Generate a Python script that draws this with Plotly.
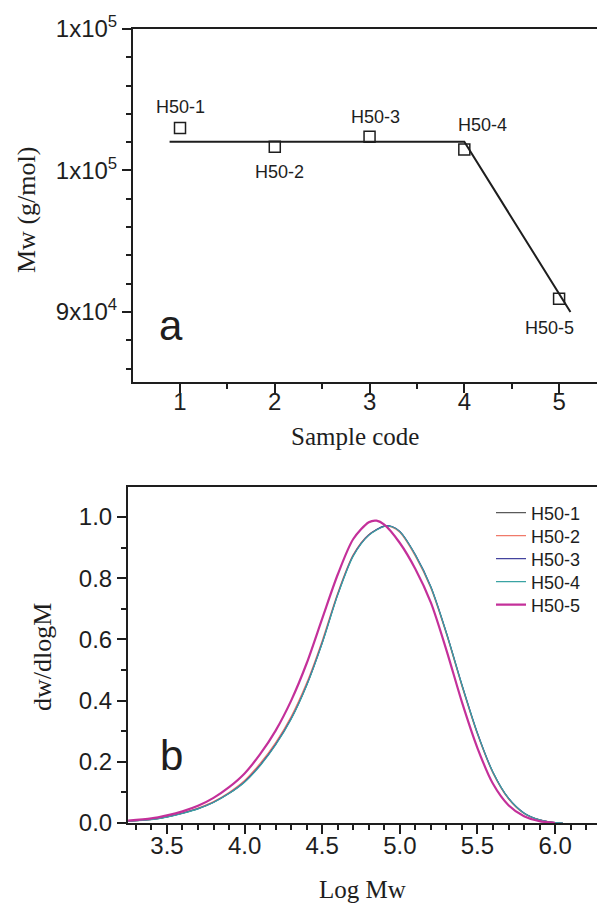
import plotly.graph_objects as go

# ---------------- Panel a data ----------------
sample_code = [1, 2, 3, 4, 5]
mw_values = [103010, 101670, 102380, 101480, 90940]
sample_names = ["H50-1", "H50-2", "H50-3", "H50-4", "H50-5"]
fit_x = [0.89, 4.0, 5.12]
fit_y = [102030, 102030, 90000]
a_yticks = [90000, 100000, 110000]
a_yticktext = ["9x10<sup>4</sup>", "1x10<sup>5</sup>", "1x10<sup>5</sup>"]

# ---------------- Panel b data ----------------
logm_5 = [3.25, 3.4, 3.5, 3.6, 3.7, 3.8, 3.9, 4.0, 4.1, 4.2, 4.3, 4.4, 4.5, 4.6, 4.7,
          4.8, 4.85, 4.9, 5.0, 5.1, 5.2, 5.3, 5.4, 5.5, 5.6, 5.7, 5.8, 5.9, 6.0]
dw_5 = [0.008, 0.015, 0.025, 0.038, 0.056, 0.082, 0.117, 0.162, 0.225, 0.302, 0.400,
        0.522, 0.668, 0.812, 0.928, 0.983, 0.988, 0.975, 0.915, 0.830, 0.720, 0.565,
        0.395, 0.245, 0.128, 0.058, 0.022, 0.006, 0.0]

logm = [3.25, 3.4, 3.5, 3.6, 3.7, 3.8, 3.9, 4.0, 4.1, 4.2, 4.3, 4.4, 4.5, 4.6, 4.7,
        4.8, 4.9, 4.95, 5.0, 5.1, 5.2, 5.3, 5.4, 5.5, 5.6, 5.7, 5.8, 5.9, 6.0, 6.05]
dw_1 = [0.006, 0.012, 0.020, 0.032, 0.047, 0.068, 0.097, 0.135, 0.190, 0.258, 0.342,
        0.452, 0.590, 0.748, 0.875, 0.942, 0.970, 0.968, 0.952, 0.875, 0.770, 0.620,
        0.450, 0.292, 0.165, 0.080, 0.032, 0.010, 0.001, 0.0]
dw_2 = [0.006, 0.012, 0.021, 0.033, 0.049, 0.070, 0.100, 0.139, 0.195, 0.263, 0.348,
        0.458, 0.596, 0.752, 0.877, 0.942, 0.969, 0.967, 0.950, 0.872, 0.767, 0.617,
        0.447, 0.290, 0.163, 0.079, 0.031, 0.010, 0.001, 0.0]
dw_3 = [0.006, 0.012, 0.020, 0.032, 0.047, 0.068, 0.097, 0.135, 0.189, 0.257, 0.341,
        0.451, 0.589, 0.747, 0.874, 0.941, 0.971, 0.969, 0.953, 0.877, 0.772, 0.622,
        0.452, 0.294, 0.166, 0.081, 0.033, 0.010, 0.001, 0.0]
dw_4 = [0.006, 0.011, 0.019, 0.031, 0.046, 0.067, 0.096, 0.133, 0.187, 0.255, 0.339,
        0.449, 0.587, 0.745, 0.872, 0.940, 0.969, 0.968, 0.952, 0.876, 0.771, 0.621,
        0.451, 0.293, 0.166, 0.081, 0.032, 0.010, 0.001, 0.0]

series_names = ["H50-1", "H50-2", "H50-3", "H50-4", "H50-5"]
series_colors = ["#5a5a5a", "#f07a6a", "#44449e", "#3aa3a3", "#c4309a"]

INK = "#1e1e1e"
SANS = "Liberation Sans, Arial, sans-serif"
SERIF = "Liberation Serif, Times New Roman, serif"
W, H = 597, 904


def px2x(px):
    return px / W


def px2y(py):
    return 1 - py / H


fig = go.Figure()

# Panel a
fig.add_trace(go.Scatter(x=fit_x, y=fit_y, mode="lines", line=dict(color=INK, width=2),
                         xaxis="x", yaxis="y", showlegend=False, hoverinfo="skip"))
fig.add_trace(go.Scatter(x=sample_code, y=mw_values, mode="markers",
                         marker=dict(symbol="square-open", size=11, color=INK,
                                     line=dict(width=1.5, color=INK)),
                         xaxis="x", yaxis="y", showlegend=False))

# Panel b
legend_ids = ["legend", "legend2", "legend3", "legend4", "legend5"]
data_b = [(logm, dw_1), (logm, dw_2), (logm, dw_3), (logm, dw_4), (logm_5, dw_5)]
widths = [1.2, 1.2, 1.2, 1.2, 2.2]
for (xs, ys), name, col, wd, lg in zip(data_b, series_names, series_colors, widths, legend_ids):
    fig.add_trace(go.Scatter(x=xs, y=ys, mode="lines", name=name, legend=lg,
                             line=dict(color=col, width=wd, shape="spline", smoothing=0.8),
                             xaxis="x2", yaxis="y2"))

axis_common = dict(showline=True, linecolor=INK, linewidth=2, showgrid=False, zeroline=False,
                   ticks="outside", ticklen=9, tickwidth=2, tickcolor=INK,
                   tickfont=dict(family=SANS, size=24, color=INK))
minor_common = dict(ticks="outside", ticklen=5, tickwidth=2, tickcolor=INK)

layout_legends = {}
legend_rows = [513, 536, 559, 582, 605]
for lg, row in zip(legend_ids, legend_rows):
    layout_legends[lg] = dict(x=px2x(491), y=px2y(row), xanchor="left", yanchor="middle",
                              bgcolor="rgba(0,0,0,0)", borderwidth=0,
                              font=dict(family=SANS, size=18, color=INK))

fig.update_layout(
    width=W, height=H,
    margin=dict(l=0, r=0, t=0, b=0, autoexpand=False),
    paper_bgcolor="white", plot_bgcolor="white",
    xaxis=dict(domain=[px2x(133), 1.0], range=[0.504, 5.40], anchor="y",
               tickmode="linear", tick0=1, dtick=1, mirror=True, ticklabelstandoff=-12,
               minor=dict(dtick=0.5, tick0=0.5, **minor_common),
               **axis_common),
    yaxis=dict(domain=[px2y(382), px2y(29)], range=[85050, 110000], anchor="x",
               tickmode="array", tickvals=a_yticks, ticktext=a_yticktext,
               minor=dict(dtick=2000, tick0=0, **minor_common),
               **axis_common),
    xaxis2=dict(domain=[px2x(128), 1.0], range=[3.249, 6.27], anchor="y2",
                tickmode="linear", tick0=3.5, dtick=0.5, tickformat=".1f", mirror=True,
                ticklabelstandoff=-9,
                minor=dict(dtick=0.1, tick0=3.0, **minor_common),
                **axis_common),
    yaxis2=dict(domain=[px2y(823), px2y(487)], range=[0, 1.098], anchor="x2",
                tickmode="linear", tick0=0, dtick=0.2, tickformat=".1f",
                minor=dict(dtick=0.1, tick0=0, **minor_common),
                **axis_common),
    showlegend=True,
    **layout_legends,
)

annotations = []
# data labels for panel a
label_offsets = [(0, 21), (5, -25), (6, 20), (18, 25), (-10, -29)]
for xv, yv, nm, (dx, dy) in zip(sample_code, mw_values, sample_names, label_offsets):
    annotations.append(dict(x=xv, y=yv, xref="x", yref="y", text=nm, showarrow=False,
                            xshift=dx, yshift=dy, xanchor="center", yanchor="middle",
                            font=dict(family=SANS, size=18, color=INK)))


def paper_text(px, py, text, family, size, angle=0):
    return dict(x=px2x(px), y=px2y(py), xref="paper", yref="paper", text=text,
                showarrow=False, xanchor="center", yanchor="middle", textangle=angle,
                font=dict(family=family, size=size, color=INK))


# panel letters
annotations.append(paper_text(171, 325, "a", SANS, 42))
annotations.append(paper_text(171, 755, "b", SANS, 42))
# axis titles
annotations.append(paper_text(355, 436, "Sample code", SERIF, 25))
annotations.append(paper_text(27, 210, "Mw (g/mol)", SERIF, 26, -90))
annotations.append(paper_text(362, 889, "Log Mw", SERIF, 25))
annotations.append(paper_text(42, 657, "dw/dlogM", SERIF, 26, -90))
fig.update_layout(annotations=annotations)

fig.write_html("out.html")
